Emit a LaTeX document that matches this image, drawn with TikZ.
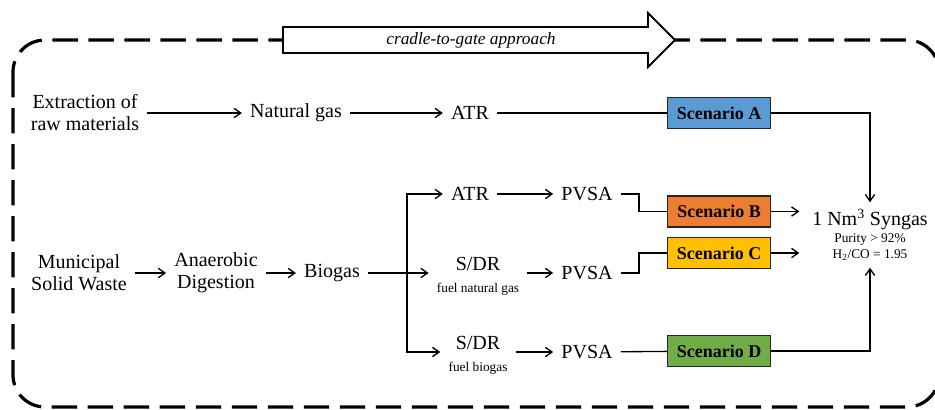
\documentclass[tikz,border=0pt]{standalone}
\usepackage{fontspec}
\setmainfont{Liberation Serif}
\usetikzlibrary{positioning, arrows.meta}

\definecolor{scenA}{HTML}{5B9BD5}
\definecolor{scenB}{HTML}{ED7D31}
\definecolor{scenC}{HTML}{FFC000}
\definecolor{scenD}{HTML}{70AD47}

\tikzset{
	txt/.style = {font = \fontsize{15}{16.5}\selectfont, align = center, inner xsep = 6pt, inner ysep = 3pt},
	small/.style = {font = \fontsize{10}{12.5}\selectfont},
	scen/.style = {draw = black!85, line width = 1.2pt, font = \fontsize{13.5}{16}\selectfont\bfseries, minimum width = 77pt, minimum height = 23pt, inner sep = 0pt},
	link/.style = {line width = 1pt},
	flow/.style = {link, -{Straight Barb[length = 5pt, width = 7pt]}}
}

\begin{document}
\begin{tikzpicture}[x = 0.75pt, y = -0.75pt]
	\useasboundingbox (0, 0) rectangle (935, 410);
	\clip (0, 0) rectangle (935, 410);
	
	\draw[line width = 2.4pt, dash pattern = on 19pt off 8pt, rounded corners = 24pt] (13, 40) rectangle (939, 407);
	\draw[line width = 1.4pt, fill = white] (283, 27) -- (648, 27) -- (648, 13) -- (675, 40) -- (648, 67) -- (648, 53) -- (283, 53) -- cycle;
	\node[font = \fontsize{13}{15}\selectfont\itshape] (ctg) at (471, 40) {cradle-to-gate approach};
	
	\node[txt] (extr) at (85, 113) {Extraction of\\raw materials};
	\node[txt] (ng) at (296, 113) {Natural gas};
	\node[txt] (atr1) at (470, 113) {ATR};
	\node[scen, fill = scenA] (sa) at (719, 113) {Scenario A};
	
	\node[txt] (ms) at (79, 273) {Municipal\\Solid Waste};
	\node[txt] (ad) at (216, 273) {Anaerobic\\Digestion};
	\node[txt] (bg) at (332, 273) {Biogas};
	\coordinate (br) at (407, 273);
	
	\node[txt] (atr2) at (470, 194) {ATR};
	\node[txt] (pv1) at (587, 194) {PVSA};
	\node[txt] (sdr1) at (478, 276) {S/DR\\{\fontsize{10}{12}\selectfont fuel natural gas}};
	\node[txt] (pv2) at (587, 273) {PVSA};
	\node[txt] (sdr2) at (478, 355) {S/DR\\{\fontsize{10}{12}\selectfont fuel biogas}};
	\node[txt] (pv3) at (587, 352) {PVSA};
	
	\node[scen, fill = scenB] (sb) at (719, 211.5) {Scenario B};
	\node[scen, fill = scenC] (sc) at (719, 253) {Scenario C};
	\node[scen, fill = scenD] (sd) at (719, 351) {Scenario D};
	
	\node[small, align = center, inner xsep = 9.5pt, inner ysep = 5pt] (syn) at (870, 235) {{\fontsize{15}{16.5}\selectfont 1 Nm\textsuperscript{3} Syngas}\\Purity > 92\%\\H\textsubscript{2}/CO = 1.95};
	
	\draw[flow] (extr) -- (ng);
	\draw[flow] (ng) -- (atr1);
	\draw[link] (atr1) -- (sa);
	\draw[flow] (sa.east) -| (syn.north);
	
	\draw[flow] (ms) -- (ad);
	\draw[flow] (ad) -- (bg);
	\draw[flow] (bg) -- (bg -| sdr1.west);
	\draw[flow] (br) |- (atr2);
	\draw[flow] (br) |- (sdr2.west |- pv3);
	
	\draw[flow] (atr2) -- (pv1);
	\draw[flow] (sdr1.east |- pv2) -- (pv2);
	\draw[flow] (sdr2.east |- pv3) -- (pv3);
	
	\draw[link] (pv1.east) -- ++(18, 0) |- (sb.west);
	\draw[link] (pv2.east) -- ++(18, 0) |- (sc.west);
	\draw[link] (pv3) -- (sd);
	
	\draw[flow] (sb.east) -- (sb.east -| syn.west);
	\draw[flow] (sc.east) -- (sc.east -| syn.west);
	\draw[flow] (sd.east) -| (syn.south);
\end{tikzpicture}
\end{document}
